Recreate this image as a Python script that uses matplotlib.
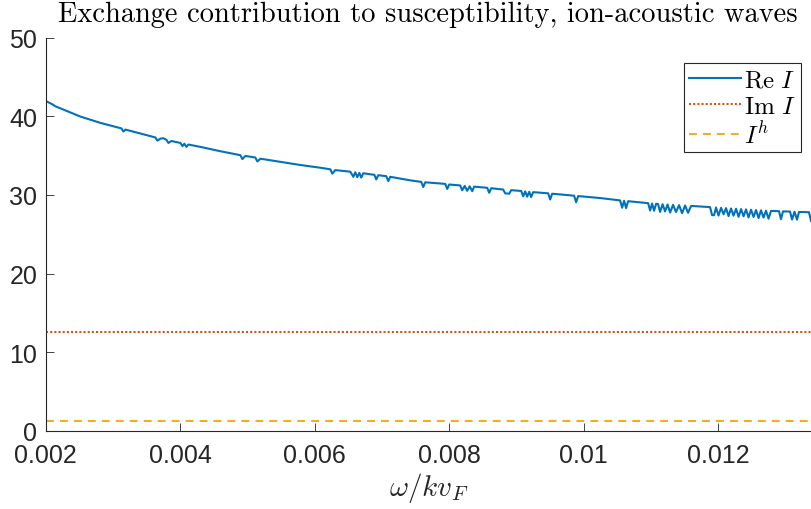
import matplotlib
matplotlib.use("Agg")
import matplotlib.pyplot as plt

plt.rcParams['mathtext.fontset'] = 'cm'

# omega / k v_F
omega = [0.002000, 0.002104, 0.002149, 0.002193, 0.002520, 0.002817, 0.003129, 0.003159, 0.003189,
         0.003412, 0.003634, 0.003664, 0.003709, 0.003753, 0.003798, 0.003828, 0.003872, 0.004006,
         0.004036, 0.004065, 0.004095, 0.004125, 0.004303, 0.004600, 0.004897, 0.004927, 0.004972,
         0.005120, 0.005150, 0.005195, 0.005492, 0.005789, 0.006086, 0.006235, 0.006264, 0.006309,
         0.006532, 0.006577, 0.006606, 0.006636, 0.006666, 0.006695, 0.006725, 0.006889, 0.006918,
         0.006948, 0.007067, 0.007097, 0.007126, 0.007423, 0.007587, 0.007617, 0.007646, 0.007944,
         0.007973, 0.008003, 0.008166, 0.008196, 0.008233, 0.008270, 0.008307, 0.008345, 0.008374,
         0.008568, 0.008597, 0.008627, 0.008805, 0.008835, 0.008895, 0.008924, 0.009073, 0.009103,
         0.009132, 0.009162, 0.009192, 0.009221, 0.009251, 0.009474, 0.009504, 0.009533, 0.009860,
         0.009890, 0.009920, 0.010247, 0.010544, 0.010574, 0.010603, 0.010633, 0.010663, 0.010960,
         0.010990, 0.011019, 0.011049, 0.011079, 0.011108, 0.011138, 0.011175, 0.011212, 0.011250,
         0.011287, 0.011331, 0.011375, 0.011420, 0.011465, 0.011510, 0.011554, 0.011599, 0.011881,
         0.011911, 0.011941, 0.011970, 0.012007, 0.012045, 0.012082, 0.012119, 0.012156, 0.012193,
         0.012230, 0.012268, 0.012305, 0.012342, 0.012379, 0.012416, 0.012453, 0.012490, 0.012528,
         0.012565, 0.012602, 0.012639, 0.012676, 0.012713, 0.012750, 0.012788, 0.012906, 0.012936,
         0.012966, 0.013070, 0.013100, 0.013137, 0.013174, 0.013204, 0.013352, 0.013382]

re_I = [41.95, 41.50, 41.25, 41.10, 39.95, 39.15, 38.45, 38.05, 38.30,
        37.80, 37.30, 36.90, 37.15, 37.20, 37.00, 36.60, 36.85, 36.60,
        36.20, 36.50, 36.10, 36.40, 36.10, 35.55, 35.05, 34.55, 34.95,
        34.75, 34.25, 34.60, 34.20, 33.80, 33.45, 33.25, 32.70, 33.15,
        32.95, 32.30, 32.88, 32.25, 32.80, 32.20, 32.75, 32.55, 31.97,
        32.50, 32.38, 31.75, 32.30, 31.85, 31.65, 31.00, 31.60, 31.40,
        30.76, 31.32, 31.20, 30.58, 31.15, 30.52, 31.10, 30.47, 31.05,
        30.90, 30.27, 30.85, 30.68, 30.20, 30.15, 30.60, 30.50, 29.82,
        30.45, 29.77, 30.40, 29.73, 30.35, 30.20, 29.42, 30.15, 29.90,
        29.07, 29.85, 29.60, 29.30, 28.37, 29.25, 28.32, 29.20, 28.95,
        28.02, 28.90, 27.98, 28.87, 28.85, 27.84, 28.82, 27.90, 28.78,
        27.76, 28.74, 27.82, 28.70, 27.68, 28.65, 27.72, 28.60, 28.45,
        27.43, 27.42, 28.40, 27.38, 28.36, 27.54, 28.32, 27.30, 28.28,
        27.36, 28.24, 27.22, 28.20, 27.28, 28.16, 27.14, 28.12, 27.20,
        28.08, 27.06, 28.04, 27.12, 28.00, 26.98, 27.97, 27.93, 26.92,
        27.91, 27.88, 26.87, 27.86, 26.85, 27.84, 27.80, 26.70]

im_I = 12.6     # Im I (constant)
I_h = 1.25      # I^h (constant)

xticks = [0.002, 0.004, 0.006, 0.008, 0.010, 0.012]
xticklabels = ['0.002', '0.004', '0.006', '0.008', '0.01', '0.012']
yticks = [0, 10, 20, 30, 40, 50]

axcol = '#262626'
c_re = (0.0, 0.447, 0.741)
c_im = (0.850, 0.325, 0.098)
c_h = (0.929, 0.694, 0.125)

fig = plt.figure(figsize=(8.11, 5.10), dpi=100)
ax = fig.add_axes([45.5 / 811, 78 / 510, 765.5 / 811, 393.5 / 510])

ax.plot(omega, re_I, color=c_re, lw=1.5, label=r'$\mathrm{Re}\ I$')
ax.plot([omega[0], omega[-1]], [im_I, im_I], color=c_im, lw=1.5,
        linestyle=(0, (1, 1)), label=r'$\mathrm{Im}\ I$')
ax.plot([omega[0], omega[-1]], [I_h, I_h], color=c_h, lw=1.5,
        linestyle=(0, (3.8, 2.9)), label=r'$I^h$')

ax.set_xlim(omega[0], omega[-1])
ax.set_ylim(0, 50)
ax.set_xticks(xticks)
ax.set_xticklabels(xticklabels)
ax.set_yticks(yticks)

for s in ['top', 'right']:
    ax.spines[s].set_visible(False)
for s in ['left', 'bottom']:
    ax.spines[s].set_color(axcol)
    ax.spines[s].set_linewidth(0.8)

ax.tick_params(direction='in', length=5.5, width=0.6, color=axcol,
               labelcolor=axcol, labelsize=18)
ax.tick_params(axis='x', pad=9)
ax.tick_params(axis='y', pad=6)
for lab in ax.get_xticklabels() + ax.get_yticklabels():
    lab.set_fontfamily('Liberation Sans')

ax.set_xlabel(r'$\omega/kv_F$', fontsize=21, color=axcol, labelpad=2)
ax.set_title('Exchange contribution to susceptibility, ion-acoustic waves',
             fontfamily='cmr10', fontsize=20.5, color='black', pad=12)

leg = ax.legend(loc='upper right', bbox_to_anchor=(0.987, 0.936), borderaxespad=0,
                fontsize=18, frameon=True, fancybox=False, framealpha=1,
                edgecolor=axcol, handlelength=2.05, handletextpad=0.15,
                labelspacing=0.1, borderpad=0.2)
leg.get_frame().set_linewidth(0.8)

fig.savefig('out.png', dpi=100)
